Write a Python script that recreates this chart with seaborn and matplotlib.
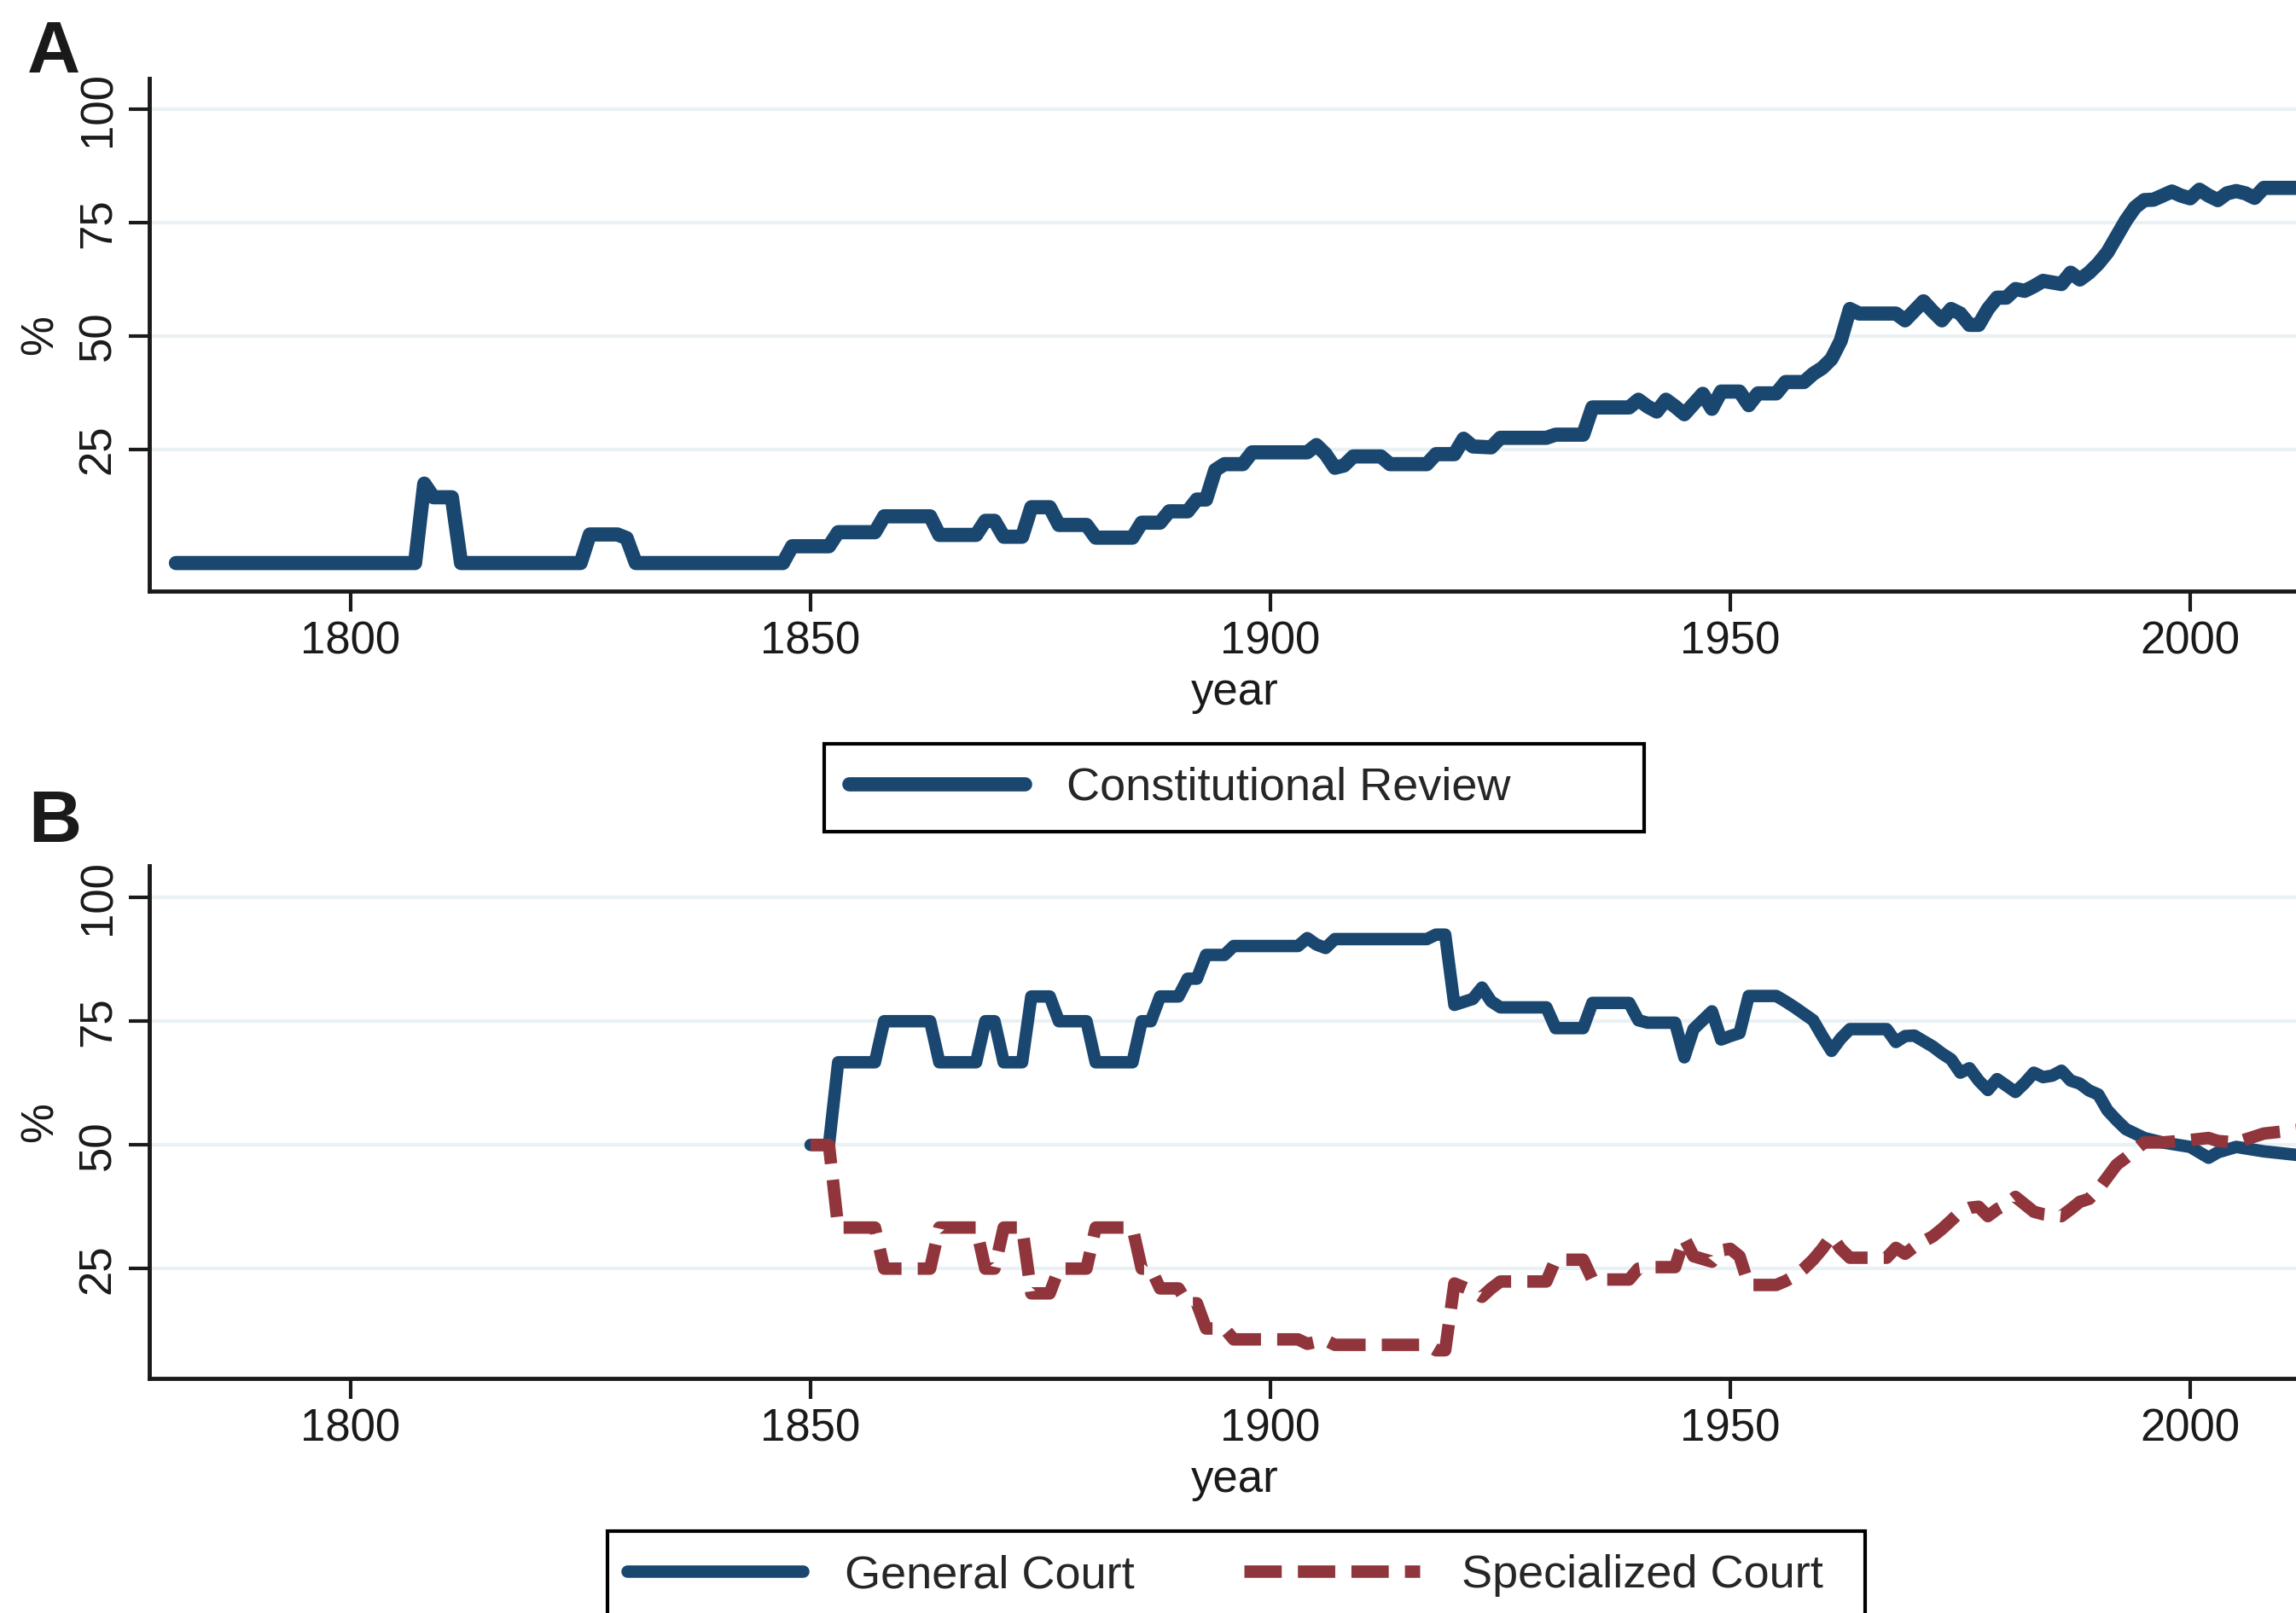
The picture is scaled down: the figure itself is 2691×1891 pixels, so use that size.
import seaborn as sns
import matplotlib.pyplot as plt
from matplotlib.patches import Rectangle

# panel A: share of constitutions with constitutional review (%)
review_year = [1781, 1807, 1808, 1809, 1811, 1812, 1825, 1826, 1829, 1830, 1831, 1847,
               1848, 1852, 1853, 1857, 1858, 1863, 1864, 1868, 1869, 1870, 1871, 1873,
               1874, 1876, 1877, 1880, 1881, 1885, 1886, 1888, 1889, 1891, 1892, 1893,
               1894, 1895, 1897, 1898, 1904, 1905, 1906, 1907, 1908, 1909, 1912, 1913,
               1917, 1918, 1920, 1921, 1922, 1924, 1925, 1930, 1931, 1934, 1935, 1939,
               1940, 1941, 1942, 1943, 1944, 1945, 1947, 1948, 1949, 1951, 1952, 1953,
               1955, 1956, 1958, 1959, 1960, 1961, 1962, 1963, 1964, 1968, 1969, 1971,
               1972, 1973, 1974, 1975, 1976, 1977, 1978, 1979, 1980, 1981, 1982, 1983,
               1984, 1986, 1987, 1988, 1989, 1990, 1991, 1992, 1993, 1994, 1995, 1996,
               1998, 1999, 2000, 2001, 2002, 2003, 2004, 2005, 2006, 2007, 2008, 2012]
review_pct = [0, 0, 17.5, 14.5, 14.5, 0, 0, 6.3, 6.3, 5.5, 0, 0,
              3.7, 3.7, 6.8, 6.8, 10.3, 10.3, 6.2, 6.2, 9.3, 9.3, 5.8, 5.8,
              12.3, 12.3, 8.4, 8.4, 5.6, 5.6, 8.9, 8.9, 11.4, 11.4, 14, 14,
              20.5, 21.8, 21.8, 24.4, 24.4, 26, 24, 21, 21.5, 23.5, 23.5, 21.8,
              21.8, 24, 24, 27.4, 25.7, 25.5, 27.6, 27.6, 28.3, 28.3, 34.3, 34.3,
              36, 34.5, 33.4, 36, 34.5, 32.8, 37.3, 34, 37.8, 37.8, 34.8, 37.4,
              37.4, 39.9, 39.9, 41.7, 43, 45, 49, 56, 55, 55, 53.5, 57.7,
              55.5, 53.5, 56, 55, 52.5, 52.5, 56, 58.5, 58.5, 60.4, 60, 61,
              62.2, 61.5, 64, 62.5, 64, 66, 68.5, 72, 75.5, 78.4, 80, 80.1,
              81.9, 81, 80.4, 82.3, 81, 80, 81.5, 82, 81.5, 80.5, 82.7, 82.7]

# panel B: which court does the review (%)
general_year = [1850, 1852, 1853, 1857, 1858, 1863, 1864, 1868, 1869, 1870, 1871, 1873,
                1874, 1876, 1877, 1880, 1881, 1885, 1886, 1887, 1888, 1890, 1891, 1892,
                1893, 1895, 1896, 1903, 1904, 1905, 1906, 1907, 1917, 1918, 1919, 1920,
                1922, 1923, 1924, 1925, 1930, 1931, 1934, 1935, 1939, 1940, 1941, 1944,
                1945, 1946, 1948, 1949, 1950, 1951, 1952, 1955, 1956, 1957, 1958, 1959,
                1960, 1961, 1962, 1963, 1967, 1968, 1969, 1970, 1971, 1972, 1973, 1974,
                1975, 1976, 1977, 1978, 1979, 1980, 1981, 1982, 1983, 1984, 1985, 1986,
                1987, 1988, 1989, 1990, 1991, 1992, 1993, 1995, 1997, 2000, 2002, 2003,
                2005, 2008, 2012]
general_pct = [50, 50, 66.7, 66.7, 75, 75, 66.7, 66.7, 75, 75, 66.7, 66.7,
               80, 80, 75, 75, 66.7, 66.7, 75, 75, 80, 80, 83.6, 83.6,
               88.4, 88.4, 90.2, 90.2, 91.8, 90.5, 89.8, 91.6, 91.6, 92.5, 92.5, 78.3,
               79.5, 81.8, 79, 77.8, 77.8, 73.6, 73.6, 78.7, 78.7, 75.2, 74.7, 74.7,
               67.7, 73.4, 77, 71.3, 72, 72.6, 80.1, 80.1, 79, 77.8, 76.5, 75.2,
               72, 69, 71.5, 73.4, 73.4, 70.8, 72, 72.1, 71, 69.9, 68.5, 67.3,
               64.6, 65.5, 63, 61.1, 63.3, 62, 60.7, 62.5, 64.6, 63.7, 64, 65,
               63, 62.4, 61, 60.2, 57, 55, 53.2, 51.4, 50.5, 49.6, 47.4, 48.5,
               49.6, 48.7, 47.9]

special_year = [1850, 1852, 1853, 1857, 1858, 1863, 1864, 1868, 1869, 1870, 1871, 1873,
                1874, 1876, 1877, 1880, 1881, 1885, 1886, 1887, 1888, 1890, 1891, 1892,
                1893, 1895, 1896, 1903, 1904, 1905, 1906, 1907, 1917, 1918, 1919, 1920,
                1922, 1923, 1924, 1925, 1930, 1931, 1934, 1935, 1939, 1940, 1941, 1944,
                1945, 1946, 1948, 1949, 1950, 1951, 1952, 1955, 1956, 1957, 1958, 1959,
                1960, 1961, 1962, 1963, 1967, 1968, 1969, 1970, 1971, 1972, 1973, 1974,
                1975, 1976, 1977, 1978, 1979, 1980, 1981, 1982, 1983, 1984, 1986, 1987,
                1988, 1989, 1990, 1991, 1992, 1993, 1995, 1997, 2000, 2002, 2003, 2005,
                2008, 2012]
special_pct = [50, 50, 33.3, 33.3, 25, 25, 33.3, 33.3, 25, 25, 33.3, 33.3,
               20, 20, 25, 25, 33.3, 33.3, 25, 25, 21, 21, 18, 18,
               12.9, 12.9, 10.7, 10.7, 9.8, 10.2, 10.5, 9.6, 9.6, 8.5, 8.5, 22,
               20.5, 19.3, 21, 22.4, 22.4, 26.8, 26.8, 22.8, 22.8, 25, 25.3, 25.3,
               31.2, 27.5, 26.4, 28.7, 29, 27.5, 21.7, 21.7, 22.5, 23.5, 25, 26.8,
               29, 31.6, 29, 27.2, 27.2, 29.2, 28, 29.4, 30.5, 31.5, 33, 34.7,
               36.5, 37.3, 37.5, 35.6, 37, 38, 39.5, 38, 36.5, 36, 35.6, 37,
               38.5, 39.1, 41, 43.5, 46, 47.4, 50.5, 50.5, 51, 51.4, 50.8, 50.5,
               52.3, 53.1]

year_ticks = [1800, 1850, 1900, 1950, 2000]
pct_ticks = [25, 50, 75, 100]

sns.set_theme(style="ticks")
plt.rcParams['font.family'] = ['Liberation Sans', 'DejaVu Sans']

navy = '#1a476f'
maroon = '#90353b'
grid_c = '#e9f1f4'
ink = '#1a1a1a'
W, H = 2691, 1891

fig = plt.figure(figsize=(W / 100, H / 100), dpi=100)
ax_a = fig.add_axes([0.065, 0.6335, 0.935, 0.3178])
ax_b = fig.add_axes([0.065, 0.1454, 0.935, 0.3178])

sns.lineplot(x=review_year, y=review_pct, ax=ax_a, color=navy, lw=12)
sns.lineplot(x=general_year, y=general_pct, ax=ax_b, color=navy, lw=10.5)
sns.lineplot(x=special_year, y=special_pct, ax=ax_b, color=maroon, lw=10.5,
             linestyle=(0, (3.0, 1.3)))

for ax, lo, hi in [(ax_a, -6.2, 106.8), (ax_b, 2.8, 106.4)]:
    ax.set_xlim(1778.1, 2011.5)
    ax.set_ylim(lo, hi)
    ax.set_xticks(year_ticks)
    ax.set_yticks(pct_ticks)
    ax.yaxis.grid(True, color=grid_c, lw=3)
    ax.xaxis.grid(False)
    ax.set_axisbelow(True)
    sns.despine(ax=ax)
    for s in ['left', 'bottom']:
        ax.spines[s].set_linewidth(3.5)
        ax.spines[s].set_color(ink)
    ax.tick_params(axis='both', length=17, width=3, color=ink, labelcolor=ink,
                   labelsize=38, pad=8)
    ax.tick_params(axis='y', labelrotation=90)
    for lab in ax.get_yticklabels():
        lab.set_va('center')
    ax.set_xlabel('year', fontsize=38, color=ink)
    ax.set_ylabel('%', fontsize=38, color=ink)
    ax.xaxis.set_label_coords(0.5056, -0.198)
    ax.xaxis.label.set_va('center')
    ax.yaxis.set_label_coords(-0.0505, 0.5)
    ax.yaxis.label.set_va('center')

# legend boxes (Stata style, fixed size)
for x0, y0, x1, y1 in [(966, 872, 1927, 975), (712, 1795, 2186, 1900)]:
    fig.patches.append(Rectangle((x0 / W, 1 - y1 / H), (x1 - x0) / W, (y1 - y0) / H,
                                 transform=fig.transFigure, fill=False,
                                 edgecolor='black', lw=3, clip_on=False))

fig.legend(handles=ax_a.lines[:1], labels=['Constitutional Review'],
           loc='center left', bbox_to_anchor=(995 / W, 1 - 923.5 / H),
           borderaxespad=0, borderpad=0, fontsize=39, frameon=False,
           handlelength=3.8, handletextpad=0.9)

fig.legend(handles=ax_b.lines[:2], labels=['General Court', 'Specialized Court'],
           loc='center left', bbox_to_anchor=(735 / W, 1 - 1847 / H), ncol=2,
           borderaxespad=0, borderpad=0, fontsize=39, frameon=False,
           handlelength=3.8, handletextpad=0.9, columnspacing=2.38)

fig.text(0.0119, 0.955, 'A', fontsize=62, fontweight='bold', color=ink,
         ha='left', va='baseline')
fig.text(0.0123, 0.478, 'B', fontsize=62, fontweight='bold', color=ink,
         ha='left', va='baseline')

fig.savefig('out.png', dpi=100)
